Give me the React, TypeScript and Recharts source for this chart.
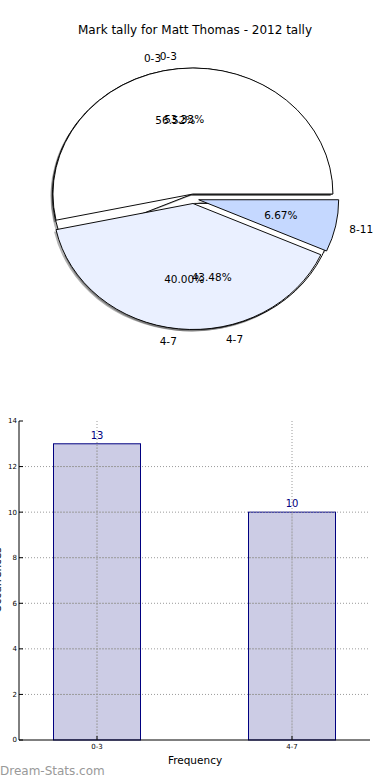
import React from "react";
import {
  PieChart, Pie, Cell, Sector, BarChart, Bar, XAxis, YAxis, ReferenceLine, LabelList,
} from "recharts";

const FONT = "DejaVu Sans, sans-serif";

// first pie (overall) and second pie (2012), drawn over each other as in the source
const pieNamesA = ["0-3", "4-7"];
const pieValuesA = [13, 10];
const pieColorsA = ["#ffffff", "#ffffff"];

const pieNamesB = ["0-3", "4-7", "8-11"];
const pieValuesB = [8, 6, 1];
const pieColorsB = ["#ffffff", "#eaf0ff", "#c5d8ff"];

const barCategories = ["0-3", "4-7"];
const barValues = [13, 10];
const yTicks = [0, 2, 4, 6, 8, 10, 12, 14];

const pieA = pieNamesA.map((name, i) => ({ name, value: pieValuesA[i] }));
const pieB = pieNamesB.map((name, i) => ({ name, value: pieValuesB[i] }));
const barData = barCategories.map((label, i) => ({ label, pos: i, value: barValues[i] }));

const RAD = Math.PI / 180;
const EXPLODE = 5.3;
const SY = 0.9; // axes were not square, so the pie is a little squashed

const makeShape = (offX: number, offY: number) => (p: any) => {
  const { cx, cy, midAngle } = p;
  const dx = EXPLODE * Math.cos(midAngle * RAD);
  const dy = -EXPLODE * Math.sin(midAngle * RAD);
  return (
    <g transform={`translate(${offX} ${offY}) translate(${cx} ${cy}) scale(1 ${SY}) translate(${-cx} ${-cy})`}>
      <Sector {...p} cx={cx + dx} cy={cy + dy} />
    </g>
  );
};

const pieLabel = (p: any) => {
  const { cx, cy, midAngle, outerRadius, percent, name } = p;
  const c = Math.cos(midAngle * RAD), s = Math.sin(midAngle * RAD);
  const at = (k: number) => [cx + (EXPLODE + k * outerRadius) * c, cy - (EXPLODE + k * outerRadius) * s * SY];
  const [lx, ly] = at(1.1);
  const [px, py] = at(0.6);
  return (
    <g>
      <text x={lx} y={ly} textAnchor={c > 0 ? "start" : "end"} dominantBaseline="central" fill="#000" fontSize={10.5} fontFamily={FONT}>{name}</text>
      <text x={px} y={py} textAnchor="middle" dominantBaseline="central" fill="#000" fontSize={10.5} fontFamily={FONT}>{(percent * 100).toFixed(2)}%</text>
    </g>
  );
};

const PCX = 193.5, PCY = 198.75, PR = 140;
const gridStyle = { stroke: "#9a9a9a", strokeDasharray: "1 2" };

// matplotlib draws the dotted grid over the bars, so the bar shape repeats it on top
const barShape = (p: any) => {
  const { x, y, width, height, payload } = p;
  const per = height / payload.value;
  const base = y + height;
  const cx = x + width / 2;
  return (
    <g>
      <rect x={x} y={y} width={width} height={height} fill="#ccccE5" stroke="#000080" strokeWidth={1} />
      {yTicks.filter((t) => t > 0 && t < payload.value).map((t) => (
        <line key={t} x1={x + 0.5} x2={x + width - 0.5} y1={base - t * per} y2={base - t * per} {...gridStyle} />
      ))}
      <line x1={cx} x2={cx} y1={y + 0.5} y2={base} {...gridStyle} />
    </g>
  );
};

export default function App() {
  return (
    <div style={{ position: "absolute", left: 0, top: 0, width: 390, height: 780, background: "#fff", fontFamily: FONT, overflow: "hidden" }}>
      <div style={{ position: "absolute", top: 23, left: 0, width: 390, textAlign: "center", fontSize: 12, color: "#000" }}>
        Mark tally for Matt Thomas - 2012 tally
      </div>
      <div style={{ position: "absolute", top: 0, left: 0 }}>
        <PieChart width={390} height={380} margin={{ top: 0, right: 0, bottom: 0, left: 0 }}>
          <Pie data={pieA} dataKey="value" nameKey="name" cx={PCX} cy={PCY} outerRadius={PR} startAngle={0} endAngle={360}
            isAnimationActive={false} stroke="none" fill="#000" fillOpacity={0.3} shape={makeShape(-2, 2)} label={false} labelLine={false} />
          <Pie data={pieB} dataKey="value" nameKey="name" cx={PCX} cy={PCY} outerRadius={PR} startAngle={0} endAngle={360}
            isAnimationActive={false} stroke="none" fill="#000" fillOpacity={0.3} shape={makeShape(-2, 2)} label={false} labelLine={false} />
          <Pie data={pieA} dataKey="value" nameKey="name" cx={PCX} cy={PCY} outerRadius={PR} startAngle={0} endAngle={360}
            isAnimationActive={false} stroke="#000" strokeWidth={1} shape={makeShape(0, 0)} label={false} labelLine={false}>
            {pieA.map((d, i) => <Cell key={d.name} fill={pieColorsA[i]} />)}
          </Pie>
          <Pie data={pieB} dataKey="value" nameKey="name" cx={PCX} cy={PCY} outerRadius={PR} startAngle={0} endAngle={360}
            isAnimationActive={false} stroke="#000" strokeWidth={1} shape={makeShape(0, 0)} label={pieLabel} labelLine={false}>
            {pieB.map((d, i) => <Cell key={d.name} fill={pieColorsB[i]} />)}
          </Pie>
          <Pie data={pieA} dataKey="value" nameKey="name" cx={PCX} cy={PCY} outerRadius={PR} startAngle={0} endAngle={360}
            isAnimationActive={false} stroke="none" fill="none" label={pieLabel} labelLine={false} />
        </PieChart>
      </div>
      <div style={{ position: "absolute", top: 410, left: 0 }}>
        <BarChart width={390} height={370} data={barData} margin={{ top: 11, right: 20, bottom: 20, left: 0 }}>
          <XAxis dataKey="pos" type="number" domain={[-0.4, 1.4]} ticks={[0, 1]} tickFormatter={(v: number) => barCategories[v]}
            height={20} stroke="#000" tickSize={-4} tickMargin={8} tick={{ fill: "#000", fontSize: 7, fontFamily: FONT }} />
          <XAxis xAxisId="top" orientation="top" dataKey="pos" type="number" domain={[-0.4, 1.4]} ticks={[0, 1]}
            height={0} stroke="#000" tickSize={-4} tick={false} />
          <YAxis domain={[0, 14]} ticks={yTicks} width={19} stroke="#000" tickSize={-4} tickMargin={6}
            tick={{ fill: "#000", fontSize: 7, fontFamily: FONT }} />
          <YAxis yAxisId="right" orientation="right" domain={[0, 14]} ticks={yTicks} width={0} stroke="#000" tickSize={-4} tick={false} />
          {yTicks.slice(1, -1).map((t) => <ReferenceLine key={`y${t}`} y={t} {...gridStyle} />)}
          {barData.map((d) => <ReferenceLine key={`x${d.pos}`} x={d.pos} {...gridStyle} />)}
          <Bar dataKey="value" barSize={87} shape={barShape} isAnimationActive={false}>
            <LabelList dataKey="value" position="top" offset={5} fill="#000080" fontSize={10} fontFamily={FONT} />
          </Bar>
        </BarChart>
      </div>
      <div style={{ position: "absolute", top: 754, left: 0, width: 390, textAlign: "center", fontSize: 10.5 }}>Frequency</div>
      <div style={{ position: "absolute", top: 580, left: -3, width: 0, height: 0 }}>
        <div style={{ position: "absolute", transform: "translate(-50%, -50%) rotate(-90deg)", whiteSpace: "nowrap", fontSize: 10.5 }}>Occurrences</div>
      </div>
      <div style={{ position: "absolute", top: 764, left: 0, fontSize: 12, color: "#999" }}>Dream-Stats.com</div>
    </div>
  );
}
